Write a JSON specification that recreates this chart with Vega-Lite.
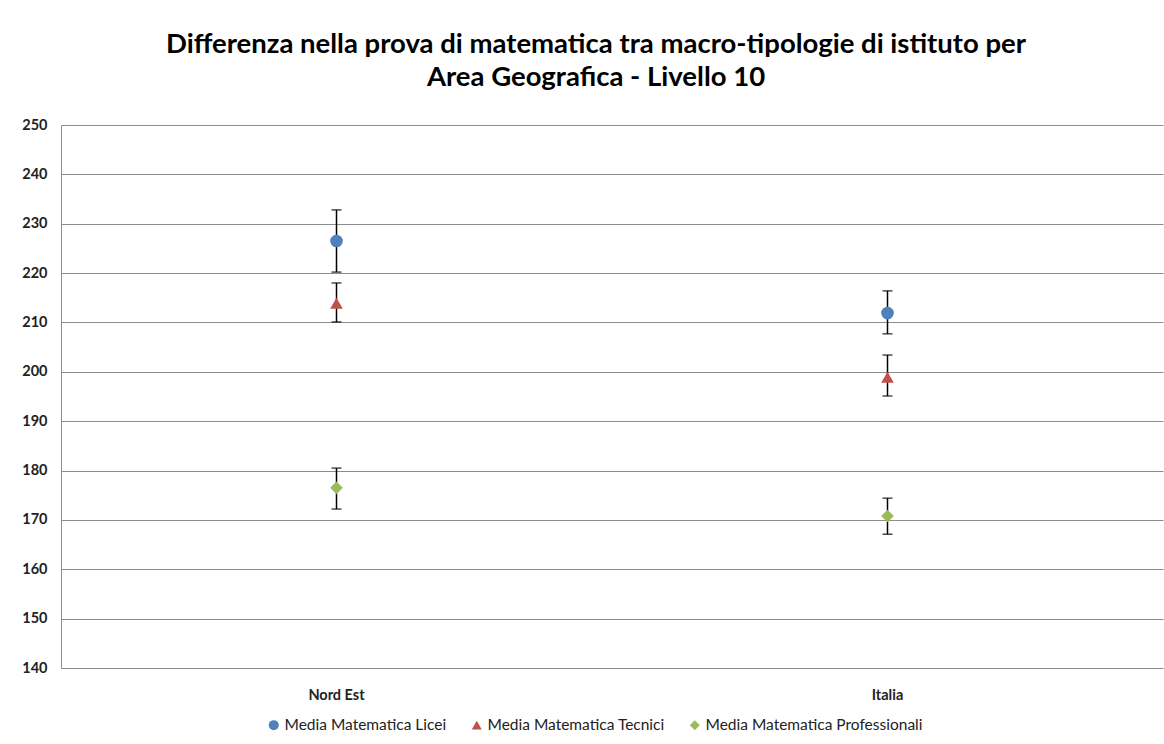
{
  "$schema": "https://vega.github.io/schema/vega-lite/v6.json",
  "width": 1102,
  "height": 543,
  "autosize": {"type": "none"},
  "padding": {"left": 61, "top": 125, "right": 1, "bottom": 76},
  "background": "white",
  "title": {
    "text": ["Differenza nella prova di matematica tra macro-tipologie di istituto per", "Area Geografica - Livello 10"],
    "font": "Lato",
    "fontSize": 27.5,
    "fontWeight": "bold",
    "color": "#000000",
    "anchor": "middle",
    "dx": -16,
    "lineHeight": 33,
    "offset": 26
  },
  "data": {
    "values": [
      {"area": "Nord Est", "serie": "Media Matematica Licei", "media": 226.5, "lo": 220.2, "hi": 232.8},
      {"area": "Nord Est", "serie": "Media Matematica Tecnici", "media": 213.9, "lo": 210.1, "hi": 218.0},
      {"area": "Nord Est", "serie": "Media Matematica Professionali", "media": 176.5, "lo": 172.2, "hi": 180.5},
      {"area": "Italia", "serie": "Media Matematica Licei", "media": 211.9, "lo": 207.7, "hi": 216.4},
      {"area": "Italia", "serie": "Media Matematica Tecnici", "media": 198.9, "lo": 195.1, "hi": 203.4},
      {"area": "Italia", "serie": "Media Matematica Professionali", "media": 170.8, "lo": 167.1, "hi": 174.4}
    ]
  },
  "encoding": {
    "x": {
      "field": "area",
      "type": "nominal",
      "sort": ["Nord Est", "Italia"],
      "scale": {"paddingInner": 0, "paddingOuter": 0},
      "axis": {
        "title": null,
        "labelAngle": 0,
        "ticks": false,
        "domain": false,
        "labelFont": "Lato",
        "labelFontSize": 14.5,
        "labelFontWeight": "bold",
        "labelColor": "#222222",
        "labelPadding": 20
      }
    }
  },
  "layer": [
    {
      "mark": {"type": "rule", "color": "#000000", "strokeWidth": 1.5},
      "encoding": {
        "y": {
          "field": "lo",
          "type": "quantitative",
          "scale": {"domain": [140, 250], "nice": false, "zero": false},
          "axis": {
            "title": null,
            "values": [140, 150, 160, 170, 180, 190, 200, 210, 220, 230, 240, 250],
            "grid": true,
            "gridColor": "#8c8c8c",
            "gridWidth": 1,
            "domain": true,
            "domainColor": "#8c8c8c",
            "ticks": false,
            "labelFont": "Lato",
            "labelFontSize": 14.5,
            "labelFontWeight": "bold",
            "labelColor": "#222222",
            "labelPadding": 14
          }
        },
        "y2": {"field": "hi"}
      }
    },
    {
      "mark": {"type": "tick", "color": "#000000", "thickness": 1.5, "size": 10, "orient": "horizontal"},
      "encoding": {"y": {"field": "lo", "type": "quantitative"}}
    },
    {
      "mark": {"type": "tick", "color": "#000000", "thickness": 1.5, "size": 10, "orient": "horizontal"},
      "encoding": {"y": {"field": "hi", "type": "quantitative"}}
    },
    {
      "mark": {"type": "point", "filled": true, "opacity": 1, "size": 160},
      "encoding": {
        "y": {"field": "media", "type": "quantitative"},
        "color": {
          "field": "serie",
          "type": "nominal",
          "scale": {
            "domain": ["Media Matematica Licei", "Media Matematica Tecnici", "Media Matematica Professionali"],
            "range": ["#4F81BD", "#C0504D", "#9BBB59"]
          },
          "legend": {
            "title": null,
            "orient": "none",
            "legendX": 205,
            "legendY": 592,
            "direction": "horizontal",
            "labelFont": "Lato",
            "labelFontSize": 15.5,
            "labelColor": "#222222",
            "labelLimit": 400,
            "symbolSize": 100,
            "columnPadding": 22,
            "labelOffset": 3
          }
        },
        "shape": {
          "field": "serie",
          "type": "nominal",
          "scale": {
            "domain": ["Media Matematica Licei", "Media Matematica Tecnici", "Media Matematica Professionali"],
            "range": ["circle", "triangle-up", "diamond"]
          }
        }
      }
    }
  ],
  "config": {
    "view": {"stroke": null}
  }
}
